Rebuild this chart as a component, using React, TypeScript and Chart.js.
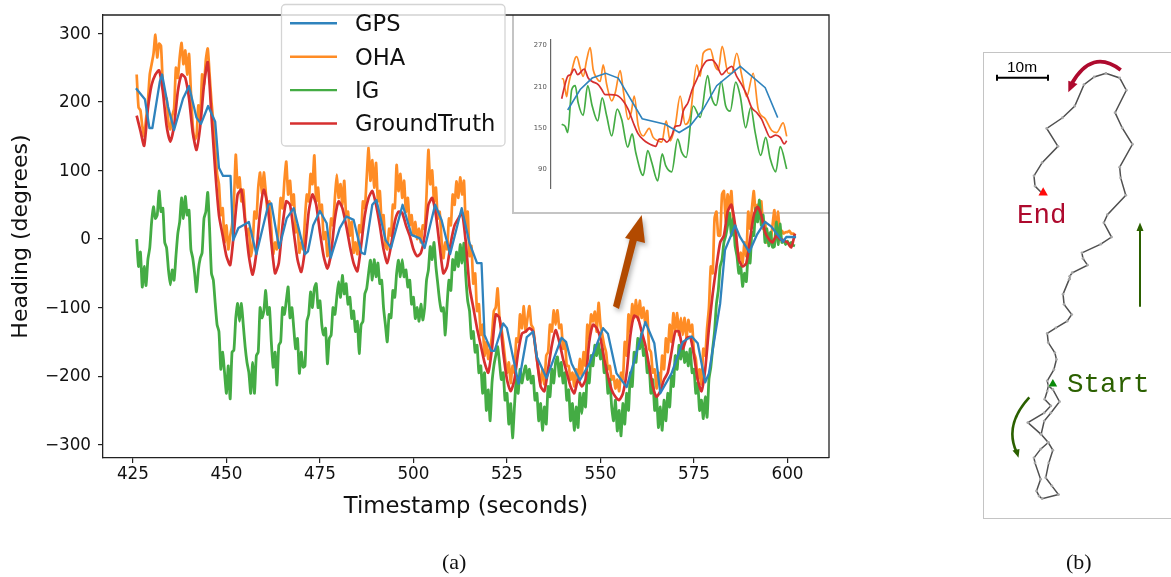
import React, { useEffect, useRef } from "react";
import { Chart, registerables } from "chart.js";

Chart.register(...registerables);

/* ---------- main panel (a) data ---------- */
const firstSecond = 426;
/* OHA and IG: one sample per half second from t = 426; each row is ten seconds */
const ohaHeading = [
  240,192,188,165,150,175,200,240,255,270,298,265,285,282,225,205,205,170,160,180,
  190,250,235,265,286,255,275,240,270,215,165,145,150,195,175,240,225,262,278,240,
  200,170,135,95,80,35,45,-5,20,-15,5,20,55,123,75,90,55,72,30,5,
  15,-25,-10,40,30,75,97,65,97,70,40,55,15,-22,-5,-15,20,60,45,85,
  113,65,85,50,65,10,20,-20,-5,-15,30,65,55,95,80,122,55,75,40,50,
  0,10,-25,-5,30,20,60,94,60,80,50,85,35,40,5,25,-20,-5,-22,20,
  10,55,45,90,133,85,115,75,111,55,70,25,35,-10,-15,15,5,50,45,108,
  70,95,60,85,40,60,20,35,5,25,0,15,-5,20,15,65,130,80,100,55,
  75,30,40,0,-28,-5,-15,30,20,65,50,84,60,90,65,85,20,40,-25,-10,
  -65,-50,-105,-95,-140,-125,-170,-150,-175,-160,-140,-105,-100,-72,-115,-130,-150,-175,-195,-180,
  -210,-185,-195,-145,-150,-110,-130,-98,-135,-115,-98,-125,-130,-155,-175,-195,-210,-190,-212,-170,
  -165,-125,-135,-104,-125,-104,-130,-125,-160,-150,-185,-185,-205,-195,-215,-190,-205,-175,-200,-165,
  -185,-125,-145,-110,-120,-106,-135,-93,-125,-140,-155,-165,-190,-185,-205,-200,-218,-205,-222,-195,
  -205,-150,-170,-110,-135,-95,-115,-89,-118,-90,-115,-100,-125,-105,-160,-165,-195,-190,-218,-195,
  -212,-170,-190,-145,-165,-125,-150,-108,-135,-108,-140,-115,-140,-115,-145,-118,-135,-125,-165,-175,
  -205,-190,-212,-160,-170,-130,-100,-40,-50,30,40,5,5,65,70,25,65,45,70,25,
  20,-15,-30,-20,-35,-5,-25,40,15,45,70,35,50,30,55,15,25,-5,8,-2,
  20,42,5,40,2,12,8,10,10,12,8,8,5,
];
const igHeading = [
  0,-40,-19,-70,-40,-68,-30,-13,25,47,30,35,70,40,45,-5,-13,-45,-67,-45,
  -60,-25,8,25,60,30,62,35,42,-15,-28,-50,-77,-45,-28,-20,30,40,68,15,
  -50,-60,-94,-125,-135,-190,-165,-195,-225,-185,-233,-165,-162,-115,-94,-120,-94,-125,-157,-180,
  -195,-225,-180,-225,-170,-165,-100,-115,-105,-75,-110,-100,-150,-187,-165,-213,-155,-150,-100,-110,
  -90,-70,-115,-100,-130,-160,-145,-196,-165,-187,-185,-120,-110,-77,-100,-72,-65,-100,-90,-125,
  -140,-130,-182,-145,-140,-100,-110,-85,-62,-85,-53,-80,-65,-95,-85,-116,-105,-135,-120,-167,
  -125,-120,-80,-72,-50,-31,-60,-30,-55,-35,-65,-60,-100,-125,-150,-110,-115,-75,-85,-50,
  -31,-55,-30,-55,-45,-70,-60,-95,-85,-116,-100,-120,-95,-118,-100,-60,-45,-11,-30,-5,
  -40,-65,-90,-105,-100,-140,-95,-60,-75,-30,-45,-19,-40,-8,-35,-6,-55,-90,-105,-145,
  -135,-165,-155,-195,-185,-225,-195,-250,-220,-265,-210,-185,-170,-157,-180,-205,-195,-235,-225,-270,
  -240,-290,-245,-205,-225,-190,-210,-195,-185,-205,-190,-210,-200,-235,-225,-265,-240,-279,-245,-270,
  -215,-230,-190,-210,-180,-172,-200,-180,-210,-195,-235,-220,-265,-240,-279,-245,-275,-225,-255,-225,
  -245,-195,-210,-170,-185,-155,-170,-152,-175,-160,-195,-185,-225,-205,-245,-265,-235,-280,-250,-287,
  -240,-270,-225,-250,-195,-215,-165,-180,-145,-160,-138,-170,-160,-195,-185,-225,-205,-250,-230,-275,
  -245,-279,-235,-265,-225,-245,-200,-215,-170,-190,-155,-175,-152,-180,-165,-185,-160,-195,-190,-225,
  -210,-250,-235,-262,-230,-260,-205,-187,-160,-135,-95,-75,-40,-30,-5,5,20,38,5,30,
  -10,-25,-50,-40,-69,-50,-62,-20,-35,10,5,45,25,57,20,35,-5,15,-10,10,
  -12,-11,25,-8,22,-5,-2,-8,-3,-9,-5,-9,-10,
];
/* GroundTruth: one sample per second from t = 426 */
const groundTruthHeading = [
  180, 158, 136, 190, 225, 240, 246, 215, 165, 142, 165, 215, 240, 235, 205, 155, 130, 165, 225, 258,
  180, 100, 35, 5, -25, -38, 10, 65, 72, 25, -25, -52, -20, 40, 72, 50, -5, -50, -35, 20,
  55, 50, 10, -30, -48, -15, 40, 65, 50, 10, -25, -43, -20, 30, 55, 45, 20, -10, -35, -47,
  -10, 35, 60, 70, 50, 20, -15, -35, -10, 25, 40, 38, 20, 5, -15, -25, -20, 5, 50, 60,
  35, -10, -50, -40, -5, 20, 30, 38, -5, -70, -100, -130, -155, -180, -195, -160, -110, -115, -165, -205,
  -222, -205, -165, -138, -135, -130, -135, -175, -215, -222, -190, -155, -133, -150, -175, -195, -215, -225, -205, -215,
  -205, -150, -125, -130, -145, -175, -200, -220, -230, -235, -225, -195, -140, -112, -115, -135, -155, -185, -215, -230,
  -222, -205, -195, -165, -135, -135, -160, -145, -143, -170, -205, -222, -190, -130, -80, -40, -5, 5, 40, 50,
  20, -30, -40, -35, 0, 35, 47, 35, 10, 0, -5, 5, 0, -2, -5, -12, 8,
];
const gpsSeconds = [
  425.8, 428.2, 429.4, 430.2, 432.2, 432.8, 434.4, 436, 438.4, 440, 442, 443.2, 445.1, 447, 448, 449.1, 451.1, 451.8, 453.2, 456,
  458, 461.2, 462, 464.1, 466.1, 468, 471, 471.8, 473.2, 475, 476.8, 477.9, 480.3, 482.1, 484, 486.1, 487, 489, 490.1, 492.6,
  494, 497.1, 499.5, 501.7, 503, 505.8, 507.5, 509.8, 512.9, 515, 517, 518.2, 519, 520.8, 521.7, 524, 525, 528.1, 530.3, 532,
  533, 535.6, 539.6, 540.8, 542.3, 544.5, 547, 550.7, 552, 554.3, 557, 559.3, 562, 564.4, 566, 569, 572, 574.4, 576, 578,
  579, 582, 583.3, 586, 587.3, 589.8, 591.8, 594, 595.7, 598.8, 599.7, 602.3,
];
const gpsHeading = [
  220, 204, 162, 162, 230, 240, 193, 159, 205, 223, 177, 168, 194, 171, 104, 92, 92, -2, 16, 25,
  -22, 50, 52, -13, 30, 45, -22, -18, 20, 41, 23, -27, 16, 33, 28, -20, -22, 50, 57, -2,
  -13, 50, 6, 1, -13, 50, 28, -22, 45, -6, -35, -35, -140, -163, -163, -123, -130, -211, -143, -135,
  -172, -203, -144, -150, -182, -206, -182, -130, -138, -196, -216, -172, -121, -152, -225, -196, -150, -142, -152, -209,
  -196, -94, -16, 20, 3, -19, 6, 25, 18, -4, 3, 3,
];
const xTickValues = [425, 450, 475, 500, 525, 550, 575, 600];
const yTickValues = [-300, -200, -100, 0, 100, 200, 300];

/* ---------- inset data ---------- */
const insetGpsTime = [1.2, 3.7, 6.1, 8.8, 11.3, 16.1, 20.7, 23.5, 25.7, 28.3, 31, 35.7, 40.7, 43.2];
const insetGpsValue = [175.7, 205.4, 222, 229, 222, 163, 155, 143, 152.8, 176.7, 211, 239, 208, 164.7];
const insetOhaTime = [
  0, 0.3, 0.7, 1, 1.3, 2, 2.7, 3, 3.7, 4.3, 5, 5.7, 6.3, 7, 7.7, 8.3, 9, 10, 10.7, 11.7, 12.3, 13.3, 13.9, 14.5, 15.3, 16.3, 17.5, 18.3,
  19.3, 20, 20.9, 21.7, 22.7, 23.7, 24.7, 25.7, 27, 27.7, 28.3, 29.7, 30.7, 31.3, 32.1, 33.3, 34, 35, 36, 37, 38.3, 39.3, 40.7, 42, 43, 44.3, 45,
];
const insetOhaValue = [
  221, 221, 205, 195, 210, 232, 251, 253, 236.5, 224.5, 248.5, 266, 234, 222, 217, 241, 212.6, 189, 200.6, 233, 205, 162, 172, 196, 153, 138, 149, 136,
  131, 129, 160, 131, 153, 196, 155, 167, 241, 224.5, 258, 264, 239, 234, 268, 229, 229, 258, 226, 195, 229, 177, 163, 146, 143, 157, 137.5,
];
const insetIgTime = [
  0, 0.7, 1.2, 2, 2.7, 3.3, 4.3, 5.2, 6.1, 7.2, 8.1, 9, 10, 11.1, 12, 13.2, 14.1, 14.8, 16.3, 17.2, 18, 19.2, 20.1, 20.8,
  22, 23.2, 24, 24.9, 26.3, 27.7, 29.2, 29.9, 30.9, 31.9, 32.8, 33.7, 34.8, 35.7, 36.8, 37.8, 38.7, 39.8, 40.8, 41.7, 42.8, 43.7, 45,
];
const insetIgValue = [
  155, 152, 143, 205, 211, 186, 168, 211, 181.5, 160, 193.4, 167, 138, 177, 162, 122, 141, 114.5, 81, 117, 100, 73, 112, 95,
  86, 133.6, 114.5, 107, 181.5, 165, 225.5, 196, 182.4, 217, 181.5, 174, 216, 196, 150, 179, 143, 110, 136, 105, 86, 122.6, 90,
];
const insetTruthTime = [
  0, 0.5, 1.2, 1.8, 2.5, 3.2, 4.5, 5.3, 6.1, 7.3, 8, 8.7, 9.7, 11, 12.3, 13.3, 14.3, 15.3, 16.3, 17.3, 18.3, 18.8, 19.5, 20.3, 21, 22,
  22.7, 23.7, 24.3, 25.3, 26.1, 27, 28, 29, 30, 31, 32, 33, 34, 35, 36, 37, 38, 39, 40, 40.7, 41.7, 42.8, 43.7, 44.5, 45,
];
const insetTruthValue = [
  192, 208, 224.5, 227, 235, 227, 235, 222, 217, 212.6, 205.4, 198, 198, 197, 188.7, 176.7, 157.6, 141, 132.7, 127.4, 124, 123, 133.6, 133.6, 129, 138.4,
  152, 153.7, 174, 187, 205.4, 219.8, 236.5, 247, 248.5, 241, 227, 234, 239, 224.5, 212.6, 198, 179, 172, 162, 150, 136, 139.4, 136, 126.5, 131,
];
const insetTicks = [90, 150, 210, 270];

/* ---------- panel (b) trajectory, metres ---------- */
const pathEast = [
  12.6, 13.5, 14.8, 13.1, 11.8, 11.2, 12.6, 13.5, 12.7, 12.1, 13.3, 14.6, 11.4, 10.8, 10.3, 11.1, 10.0, 9.8, 11.1, 12.6,
  11.2, 8.6, 11.8, 13.1, 11.9, 12.4, 12.6, 12.4, 13.7, 14.2, 13.9, 12.6, 12.4, 14.1, 16.3, 17.2, 15.7, 15.5, 16.7, 16.8,
  17.3, 20.3, 19.4, 19.2, 22.9, 25.0, 23.5, 24.2, 27.8, 26.8, 26.6, 29.1, 27.1, 25.7, 27.9, 26.6, 23.9, 21.6, 19.6, 17.8,
  15.4, 12.3, 14.5, 11.4, 9.8, 10.0, 11.3,
];
const pathNorth = [
  26.1, 25.4, 23.0, 20.8, 19.2, 16.6, 15.0, 13.5, 11.0, 8.1, 6.5, 4.8, 4.0, 4.5, 5.5, 7.8, 11.0, 12.0, 13.7, 15.0,
  16.6, 18.9, 20.8, 22.2, 23.5, 25.1, 26.1, 27.1, 29.3, 31.3, 32.6, 34.6, 36.4, 37.5, 38.8, 40.1, 42.1, 44.1, 47.0, 47.6,
  48.3, 49.8, 51.1, 52.2, 53.9, 55.3, 58.1, 59.7, 63.5, 66.9, 69.0, 73.5, 76.7, 79.7, 84.1, 86.5, 87.4, 86.7, 85.2, 81.0,
  78.7, 76.6, 73.1, 69.9, 67.3, 65.3, 64.0,
];
const startMarker = { east: 13.5, north: 26.5 };
const endMarker = { east: 11.6, north: 64.0 };

const BLUE = "#2f83bd";
const ORANGE = "#ff8c25";
const GREEN = "#44ac44";
const RED = "#d62f2f";
const SANS = "'DejaVu Sans'";

const zip = (xs: number[], ys: number[]) => xs.map((x, i) => ({ x, y: ys[i] }));
const atSeconds = (ys: number[]) => ys.map((y, i) => ({ x: firstSecond + i, y }));
const atHalfSeconds = (ys: number[]) => ys.map((y, i) => ({ x: firstSecond + i / 2, y }));
const minus = (v: number | string) => String(v).replace("-", "\u2212");

/* Top and right spines plus the legend frame. */
const mainDecor = {
  id: "mainDecor",
  afterDraw(chart: any) {
    const { ctx, chartArea: a } = chart;
    ctx.save();
    ctx.strokeStyle = "#222";
    ctx.lineWidth = 1.3;
    ctx.beginPath();
    ctx.moveTo(a.left, a.top);
    ctx.lineTo(a.right, a.top);
    ctx.lineTo(a.right, a.bottom);
    ctx.stroke();

    const fx = 281.5, fy = 4.5, fw = 223.5, fh = 141.5;
    ctx.beginPath();
    ctx.roundRect(fx, fy, fw, fh, 4);
    ctx.fillStyle = "rgba(255,255,255,0.8)";
    ctx.fill();
    ctx.strokeStyle = "#d4d4d4";
    ctx.lineWidth = 1.3;
    ctx.stroke();

    ctx.font = `22.6px ${SANS}`;
    ctx.textBaseline = "middle";
    ctx.textAlign = "left";
    chart.data.datasets.forEach((ds: any, i: number) => {
      const y = 23.3 + i * 33.4;
      ctx.strokeStyle = ds.borderColor;
      ctx.lineWidth = 2.4;
      ctx.beginPath();
      ctx.moveTo(290, y);
      ctx.lineTo(337, y);
      ctx.stroke();
      ctx.fillStyle = "#111";
      ctx.fillText(ds.label, 355, y + 2);
    });
    ctx.restore();
  },
};

function MainChart() {
  const ref = useRef<HTMLCanvasElement>(null);
  useEffect(() => {
    const line = (label: string, data: any[], color: string, order: number, w: number, tension: number) => ({
      label, data, borderColor: color, backgroundColor: color, borderWidth: w,
      pointRadius: 0, tension, order, borderJoinStyle: "round",
    });
    const chart = new Chart(ref.current!, {
      type: "line",
      data: {
        datasets: [
          line("GPS", zip(gpsSeconds, gpsHeading), BLUE, 0, 2.3, 0),
          line("OHA", atHalfSeconds(ohaHeading), ORANGE, 3, 2.7, 0.2),
          line("IG", atHalfSeconds(igHeading), GREEN, 2, 2.8, 0.2),
          line("GroundTruth", atSeconds(groundTruthHeading), RED, 1, 2.7, 0.2),
        ],
      } as any,
      options: {
        animation: false,
        responsive: false,
        layout: { autoPadding: false, padding: { left: 0, top: 15, right: 342, bottom: 56 } },
        plugins: { legend: { display: false }, tooltip: { enabled: false } },
        scales: {
          x: {
            type: "linear",
            min: 417,
            max: 611.1,
            afterFit: (s: any) => { s.height = 63; s.paddingLeft = 0; s.paddingRight = 0; },
            afterBuildTicks: (s: any) => { s.ticks = xTickValues.map((value) => ({ value })); },
            grid: { drawOnChartArea: false, drawTicks: true, tickLength: 5, color: "#222", lineWidth: 1.2 },
            border: { display: true, color: "#222", width: 1.3 },
            ticks: { color: "#111", font: { family: SANS, size: 16.8 }, maxRotation: 0, autoSkip: false, padding: 2, callback: (v: any) => minus(v) },
            title: { display: true, text: "Timestamp (seconds)", color: "#111", font: { family: SANS, size: 22.7 }, padding: 0 },
          },
          y: {
            min: -319.4,
            max: 326.8,
            afterFit: (s: any) => { s.width = 103; s.paddingTop = 0; s.paddingBottom = 0; },
            afterBuildTicks: (s: any) => { s.ticks = yTickValues.map((value) => ({ value })); },
            grid: { drawOnChartArea: false, drawTicks: true, tickLength: 5, color: "#222", lineWidth: 1.2 },
            border: { display: true, color: "#222", width: 1.3 },
            ticks: { color: "#111", font: { family: SANS, size: 16.8 }, autoSkip: false, padding: 7, labelOffset: 1, callback: (v: any) => minus(v) },
            title: { display: true, text: "Heading (degrees)", color: "#111", font: { family: SANS, size: 22 }, padding: { top: 8, bottom: 0 } },
          },
        },
      } as any,
      plugins: [mainDecor],
    });
    return () => chart.destroy();
  }, []);
  return <canvas ref={ref} width={1171} height={577} style={{ position: "absolute", left: 0, top: 0, width: 1171, height: 577 }} />;
}

function InsetChart() {
  const ref = useRef<HTMLCanvasElement>(null);
  useEffect(() => {
    const line = (label: string, data: any[], color: string, order: number, w: number, smooth: boolean) => ({
      label, data, borderColor: color, borderWidth: w, pointRadius: 0, order,
      ...(smooth ? { cubicInterpolationMode: "monotone" } : { tension: 0 }),
    });
    const chart = new Chart(ref.current!, {
      type: "line",
      data: {
        datasets: [
          line("GPS", zip(insetGpsTime, insetGpsValue), BLUE, 0, 1.6, false),
          line("OHA", zip(insetOhaTime, insetOhaValue), ORANGE, 3, 1.7, true),
          line("IG", zip(insetIgTime, insetIgValue), GREEN, 2, 1.7, true),
          line("GroundTruth", zip(insetTruthTime, insetTruthValue), RED, 1, 1.7, true),
        ],
      } as any,
      options: {
        animation: false,
        responsive: false,
        layout: { autoPadding: false, padding: { left: 0, top: 25, right: 37.3, bottom: 24 } },
        plugins: { legend: { display: false }, tooltip: { enabled: false } },
        scales: {
          x: { type: "linear", min: -2.2, max: 46, display: false },
          y: {
            min: 62.6,
            max: 277.2,
            afterFit: (s: any) => { s.width = 36.7; },
            afterBuildTicks: (s: any) => { s.ticks = insetTicks.map((value) => ({ value })); },
            grid: { display: false, drawTicks: false },
            border: { display: true, color: "#666", width: 1.2 },
            ticks: { color: "#555", font: { family: SANS, size: 6.8 }, padding: 4, labelOffset: 0.5, autoSkip: false },
          },
        },
      } as any,
    });
    return () => chart.destroy();
  }, []);
  return <canvas ref={ref} width={315} height={197} style={{ position: "absolute", left: 0, top: 0, width: 315, height: 197 }} />;
}

function TrajectoryChart() {
  const ref = useRef<HTMLCanvasElement>(null);
  useEffect(() => {
    const chart = new Chart(ref.current!, {
      type: "scatter",
      data: {
        datasets: [
          {
            label: "Trajectory", data: zip(pathEast, pathNorth), showLine: true, borderColor: "#505050", borderWidth: 1.5,
            pointRadius: 1.4, pointBackgroundColor: "#a8a8a8", pointBorderWidth: 0, order: 1,
          },
          {
            label: "Start", data: [{ x: startMarker.east, y: startMarker.north }], pointStyle: "triangle", pointRadius: 5,
            pointBackgroundColor: "#0a8a0a", pointBorderWidth: 0, order: 0,
          },
          {
            label: "End", data: [{ x: endMarker.east, y: endMarker.north }], pointStyle: "triangle", pointRadius: 5.4,
            pointBackgroundColor: "#ff0a0a", pointBorderWidth: 0, order: 0,
          },
        ],
      } as any,
      options: {
        animation: false,
        responsive: false,
        layout: { autoPadding: false, padding: 0 },
        plugins: { legend: { display: false }, tooltip: { enabled: false } },
        scales: {
          x: { type: "linear", min: 0, max: 36.86, display: false },
          y: { type: "linear", min: 0, max: 91.4, display: false },
        },
      } as any,
    });
    return () => chart.destroy();
  }, []);
  return <canvas ref={ref} width={188} height={466} style={{ position: "absolute", left: 0, top: 0, width: 188, height: 466 }} />;
}

const abs = (left: number, top: number, extra: any = {}): any => ({ position: "absolute", left, top, whiteSpace: "nowrap", ...extra });

function Arrows() {
  const BROWN = "#b24a00", DARK_GREEN = "#2b6000", CRIMSON = "#ae0a2e";
  return (
    <svg width={1171} height={577} style={abs(0, 0)}>
      <g style={{ filter: "drop-shadow(2px 3px 2.5px rgba(0,0,0,0.3))" }}>
        <polygon points="613,306 619,309 637,240 630,238" fill={BROWN} />
        <polygon points="625,238 645,243 641.7,215" fill={BROWN} />
      </g>
      <path d="M1120.7 70 Q1092 48 1071.5 84" fill="none" stroke={CRIMSON} strokeWidth={3.8} />
      <polygon points="1068.3,92.3 1068.3,80.7 1077.5,84" fill={CRIMSON} />
      <line x1={1140} y1={306.7} x2={1140} y2={228} stroke={DARK_GREEN} strokeWidth={2} />
      <polygon points="1140,222.5 1136.5,231 1143.5,231" fill={DARK_GREEN} />
      <path d="M1029.3 397.3 Q1004 425 1016.5 452" fill="none" stroke={DARK_GREEN} strokeWidth={2.6} />
      <polygon points="1018.5,457.7 1012.5,450.5 1019.5,449" fill={DARK_GREEN} />
      <line x1={997} y1={77.7} x2={1048} y2={77.7} stroke="#000" strokeWidth={2} />
      <line x1={997} y1={74.7} x2={997} y2={80.7} stroke="#000" strokeWidth={2} />
      <line x1={1048} y1={74.7} x2={1048} y2={80.7} stroke="#000" strokeWidth={2} />
    </svg>
  );
}

export default function App() {
  return (
    <div style={{ position: "absolute", left: 0, top: 0, width: 1171, height: 577, overflow: "hidden", background: "#fff" }}>
      <div style={abs(512, 15, { width: 315, height: 197, background: "#fff", borderLeft: "2px solid #c4c4c4", borderBottom: "2px solid #c4c4c4" })}>
        <InsetChart />
      </div>
      <MainChart />
      <div style={abs(983, 52, { width: 188, height: 465, boxSizing: "content-box", borderLeft: "1px solid #c4c4c4", borderTop: "1px solid #c4c4c4", borderBottom: "1px solid #c4c4c4" })}>
        <TrajectoryChart />
      </div>
      <Arrows />
      <div style={abs(1007, 58, { font: "15.5px 'Liberation Sans'", color: "#000" })}>10m</div>
      <div style={abs(1017, 200, { font: "27.5px 'Liberation Mono'", color: "#ae0a2e" })}>End</div>
      <div style={abs(1067, 369, { font: "27.5px 'Liberation Mono'", color: "#2b6000" })}>Start</div>
      <div style={abs(442, 549, { font: "22px 'Liberation Serif'", color: "#111" })}>(a)</div>
      <div style={abs(1066, 549, { font: "22px 'Liberation Serif'", color: "#111" })}>(b)</div>
    </div>
  );
}
